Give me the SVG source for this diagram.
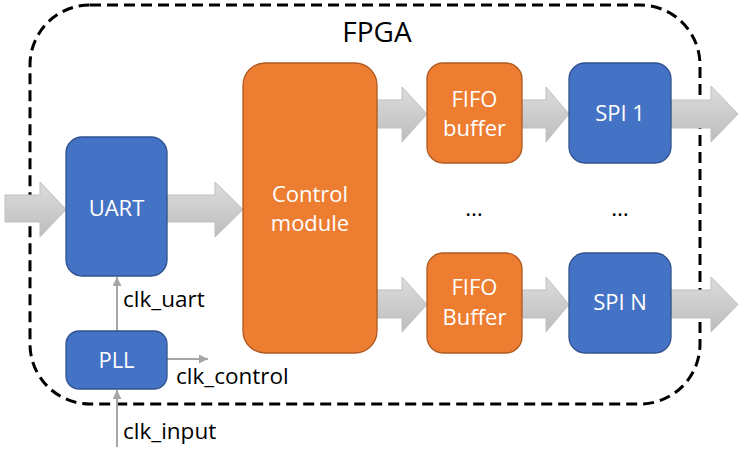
<svg xmlns="http://www.w3.org/2000/svg" width="746" height="452" viewBox="0 0 746 452">
<defs>
<linearGradient id="ag" x1="0" y1="0" x2="0" y2="1">
<stop offset="0" stop-color="#DCDCDC"/>
<stop offset="1" stop-color="#BDBDBD"/>
</linearGradient>
<marker id="ah" viewBox="0 0 10 10" refX="10" refY="5" markerWidth="4.5" markerHeight="4.5" orient="auto" markerUnits="strokeWidth">
<path d="M0,0 L10,5 L0,10 z" fill="#A6A6A6"/>
</marker>
<style>
.blue{fill:#4472C4;stroke:#2F528F;stroke-width:1.3}
.orange{fill:#ED7D31;stroke:#AE5A21;stroke-width:1.3}
.lbl{font-family:"Open Sans","Noto Sans",sans-serif;font-size:22px;fill:#FFFFFF;text-anchor:middle}
.blk{font-family:"Open Sans","Noto Sans",sans-serif;font-size:22.5px;fill:#000000}
.barrow{fill:url(#ag);stroke:#BFBFBF;stroke-width:1}
.thin{stroke:#A6A6A6;stroke-width:2;fill:none;marker-end:url(#ah)}
</style>
</defs>
<rect width="746" height="452" fill="#FFFFFF"/>
<g id="fpga">
<rect x="30" y="5" width="670" height="399" rx="60" ry="60" fill="none" stroke="#000000" stroke-width="3" stroke-dasharray="11 6"/>
<text class="blk" x="377" y="42" text-anchor="middle" style="font-size:28px">FPGA</text>
</g>
<g id="connectors">
<polygon class="barrow" points="5,195 40,195 40,182 66,209.5 40,237 40,222 5,222"/>
<polygon class="barrow" points="167,195 215,195 215,182 243,209.5 215,237 215,222 167,222"/>
<polygon class="barrow" points="377,100 402,100 402,87 427,114 402,142 402,128 377,128"/>
<polygon class="barrow" points="522,100 546,100 546,87 569,114 546,142 546,128 522,128"/>
<polygon class="barrow" points="671,100 711,100 711,86 738,114 711,142 711,128 671,128"/>
<polygon class="barrow" points="377,290 402,290 402,277 427,304.5 402,332 402,318 377,318"/>
<polygon class="barrow" points="522,290 546,290 546,277 569,304.5 546,332 546,318 522,318"/>
<polygon class="barrow" points="671,290 711,290 711,277 738,304.5 711,332 711,318 671,318"/>
<line class="thin" x1="117" y1="331" x2="117" y2="277"/>
<line class="thin" x1="167" y1="359" x2="208" y2="359"/>
<line class="thin" x1="117" y1="447" x2="117" y2="390"/>
<text class="blk" x="123" y="307">clk_uart</text>
<text class="blk" x="176" y="384">clk_control</text>
<text class="blk" x="123" y="439">clk_input</text>
</g>
<g id="uart">
<rect class="blue" x="66" y="137" width="101" height="139" rx="16"/>
<text class="lbl" x="116.5" y="216">UART</text>
</g>
<g id="pll">
<rect class="blue" x="66" y="331" width="101" height="58" rx="13"/>
<text class="lbl" x="116.5" y="368">PLL</text>
</g>
<g id="control">
<rect class="orange" x="243" y="63" width="134" height="290" rx="22"/>
<text class="lbl" x="310" y="202">Control</text>
<text class="lbl" x="310" y="231">module</text>
</g>
<g id="fifo1">
<rect class="orange" x="427" y="63" width="95" height="100" rx="16"/>
<text class="lbl" x="474.5" y="107">FIFO</text>
<text class="lbl" x="474.5" y="136">buffer</text>
</g>
<g id="spi1">
<rect class="blue" x="569" y="63" width="102" height="100" rx="16"/>
<text class="lbl" x="620" y="121">SPI 1</text>
</g>
<g id="fifoN">
<rect class="orange" x="427" y="253" width="95" height="100" rx="16"/>
<text class="lbl" x="474.5" y="295">FIFO</text>
<text class="lbl" x="474.5" y="325">Buffer</text>
</g>
<g id="spiN">
<rect class="blue" x="569" y="253" width="102" height="100" rx="16"/>
<text class="lbl" x="620" y="310">SPI N</text>
</g>
<g id="ellipses">
<text class="blk" x="474" y="216" text-anchor="middle">…</text>
<text class="blk" x="620" y="216" text-anchor="middle">…</text>
</g>
</svg>
